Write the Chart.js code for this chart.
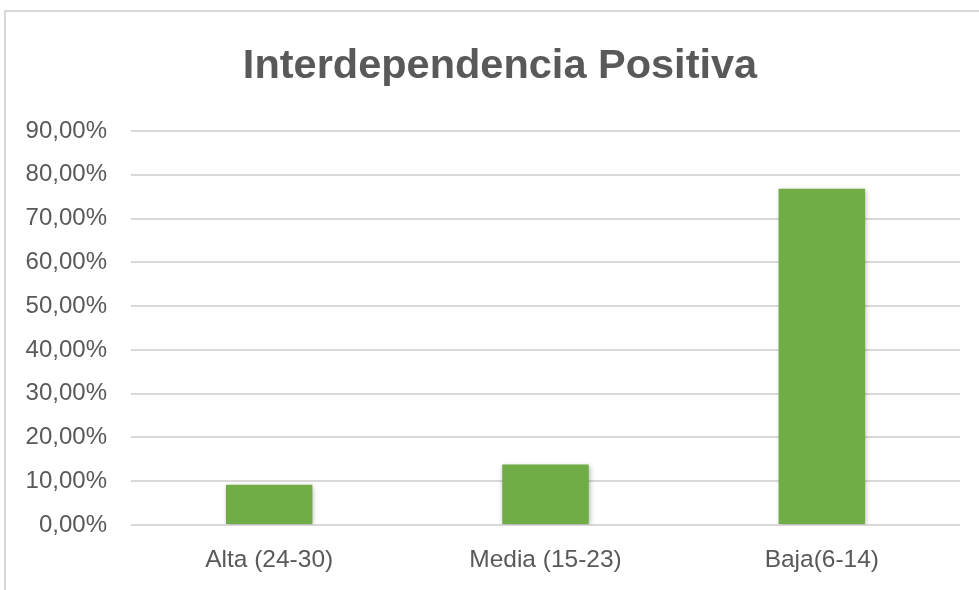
<!DOCTYPE html>
<html>
<head>
<meta charset="utf-8">
<script src="https://cdn.jsdelivr.net/npm/chart.js@4.4.1/dist/chart.umd.min.js"></script>
<style>
  html, body { margin: 0; padding: 0; background: #ffffff; }
  #wrap { width: 979px; height: 590px; position: relative; }
</style>
</head>
<body>
<div id="wrap"><canvas id="grafico" width="979" height="590"></canvas></div>
<script>
const categorias = ["Alta (24-30)", "Media (15-23)", "Baja(6-14)"];
const porcentajes = [0.092, 0.138, 0.768];
const titulo = "Interdependencia Positiva";

const GRIS = "#595959";
const VERDE = "#70ad47";
const FUENTE = "Liberation Sans, Arial, sans-serif";

// borde del área del gráfico y título centrado como en Excel
const bordePlugin = {
    id: "borde",
    beforeDraw(chart) {
        const ctx = chart.ctx;
        ctx.save();
        ctx.fillStyle = "#ffffff";
        ctx.fillRect(0, 0, chart.width, chart.height);
        ctx.strokeStyle = "#d9d9d9";
        ctx.lineWidth = 2;
        ctx.beginPath();
        ctx.moveTo(5, chart.height);
        ctx.lineTo(5, 11);
        ctx.lineTo(chart.width, 11);
        ctx.stroke();

        ctx.fillStyle = GRIS;
        ctx.font = "bold 41.5px " + FUENTE;
        ctx.textAlign = "center";
        ctx.textBaseline = "middle";
        ctx.fillText(titulo, 500, 67);
        ctx.restore();
    }
};

// sombra suave de las barras
const sombraPlugin = {
    id: "sombra",
    beforeDatasetsDraw(chart) {
        const ctx = chart.ctx;
        ctx.save();
        ctx.shadowColor = "rgba(0,0,0,0.30)";
        ctx.shadowBlur = 5;
        ctx.shadowOffsetX = 1;
        ctx.shadowOffsetY = 1;
    },
    afterDatasetsDraw(chart) {
        chart.ctx.restore();
    }
};

const ctx = document.getElementById("grafico");

new Chart(ctx, {
    type: "bar",
    data: {
        labels: categorias,
        datasets: [{
            label: titulo,
            data: porcentajes,
            backgroundColor: VERDE,
            borderWidth: 0,
            categoryPercentage: 1,
            barPercentage: 0.313
        }]
    },
    options: {
        responsive: false,
        animation: false,
        layout: {
            padding: { left: 0, right: 19, top: 131, bottom: 0 }
        },
        plugins: {
            legend: { display: false },
            tooltip: { enabled: false },
            title: { display: false }
        },
        scales: {
            x: {
                grid: { display: false, drawTicks: false },
                border: { display: false },
                afterFit(scale) { scale.height = 65; },
                ticks: {
                    color: GRIS,
                    padding: 21,
                    font: { family: FUENTE, size: 24.5 }
                }
            },
            y: {
                min: 0,
                max: 0.9,
                border: { display: false },
                grid: { color: "#d9d9d9", lineWidth: 2, drawTicks: false },
                afterFit(scale) { scale.width = 131; },
                ticks: {
                    stepSize: 0.1,
                    color: GRIS,
                    padding: 24,
                    font: { family: FUENTE, size: 24 },
                    callback: v => (v * 100).toFixed(2).replace(".", ",") + "%"
                }
            }
        }
    },
    plugins: [bordePlugin, sombraPlugin]
});
</script>
</body>
</html>
